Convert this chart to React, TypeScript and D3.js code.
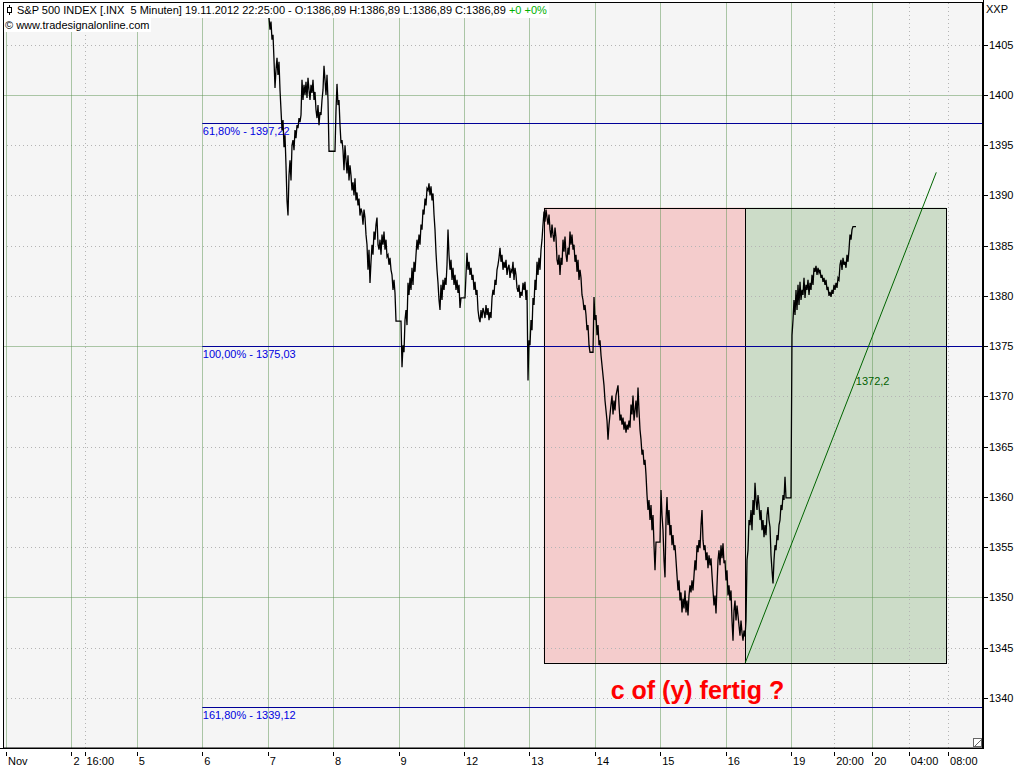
import React from 'react';
import * as d3 from 'd3';

// ---- axis / tick data ----
const Y_TICKS = [1340, 1345, 1350, 1355, 1360, 1365, 1370, 1375, 1380, 1385, 1390, 1395, 1400, 1405];
const Y_MAJOR = [1350, 1375, 1400];
const X_TICK_LABELS = ['Nov', '2', '16:00', '5', '6', '7', '8', '9', '12', '13', '14', '15', '16', '19', '20:00', '20', '04:00', '08:00'];
const X_TICK_POS = [0, 1, 1.2, 2, 3, 4, 5, 6, 7, 8, 9, 10, 11, 12, 12.66, 13.24, 13.8, 14.4];
const X_TICK_MAJOR = [true, true, false, true, true, true, true, true, true, true, true, true, true, true, false, true, false, false];

// x in trading-day units, y in index points
const X_DOMAIN = [-0.046, 14.934];
const Y_DOMAIN = [1335.02, 1409.15];

// ---- price series (sampled ~65 samples per trading day from Nov 7) ----
const PRICE_START = 4.02;
const SAMPLES_PER_DAY = 65.42;
const PRICES = [
  1407.7, 1406.5, 1407.3, 1405.5, 1406.0, 1403.5, 1400.7, 1402.5, 1403.7, 1402.0, 1403.3, 1400.5,
  1398.5, 1396.5, 1397.5, 1394.8, 1396.0, 1393.0, 1389.5, 1388.0, 1392.0, 1393.5, 1391.5, 1395.0, 1395.5, 1394.5, 1396.5, 1395.7, 1397.0, 1396.7, 1397.7, 1397.3,
  1398.0, 1401.5, 1399.5, 1401.0, 1400.0, 1401.3, 1399.7, 1401.7, 1400.5, 1399.5, 1401.0, 1400.2, 1401.5, 1399.5, 1400.3, 1398.5, 1397.7, 1399.0, 1397.0, 1398.3,
  1398.0, 1399.5, 1400.5, 1402.9, 1401.5, 1400.0, 1402.0, 1399.5, 1394.4, 1394.4, 1394.4, 1394.4, 1394.4, 1394.4, 1394.4, 1398.5, 1401.1, 1399.0, 1399.5, 1397.0,
  1395.2, 1395.5, 1394.5, 1392.5, 1395.0, 1393.5, 1392.2, 1394.0, 1391.5, 1393.0, 1392.0, 1390.5, 1391.3, 1390.0, 1391.7, 1389.5, 1390.3, 1389.0, 1389.7, 1388.0,
  1388.7, 1388.3, 1387.1, 1388.6, 1387.8, 1386.1, 1385.1, 1382.6, 1384.6, 1381.3, 1383.4, 1385.1, 1384.1, 1386.4, 1385.6, 1387.1, 1387.8, 1385.1, 1384.6, 1385.6,
  1384.1, 1386.1, 1385.1, 1386.4, 1384.6, 1385.6, 1383.9, 1384.1, 1383.1, 1383.8, 1382.6, 1382.1, 1380.6, 1381.6, 1380.3, 1377.5, 1377.5, 1377.5, 1377.5, 1377.5,
  1377.5, 1372.9, 1375.1, 1374.4, 1377.6, 1378.6, 1377.1, 1381.3, 1380.1, 1381.8, 1380.6, 1382.8, 1381.1, 1383.4, 1382.4, 1384.1, 1385.6, 1384.6, 1386.1, 1385.1,
  1387.1, 1386.6, 1388.6, 1388.1, 1389.7, 1389.0, 1390.7, 1390.5, 1391.2, 1390.0, 1390.9, 1389.5, 1390.2, 1388.1, 1386.6, 1384.3, 1382.6, 1381.3, 1379.6, 1378.6,
  1381.1, 1379.6, 1381.6, 1380.6, 1381.8, 1381.1, 1383.1, 1386.6, 1384.1, 1382.6, 1383.6, 1381.6, 1382.8, 1381.1, 1382.1, 1380.6, 1381.6, 1380.3, 1381.1, 1378.8,
  1379.8, 1379.8, 1379.8, 1379.8, 1379.8, 1382.1, 1384.3, 1382.6, 1383.4, 1382.1, 1382.8, 1381.6, 1382.1, 1380.6, 1381.4, 1380.1, 1380.6, 1378.6, 1377.8, 1377.4,
  1378.6, 1377.8, 1378.8, 1378.4, 1377.8, 1379.1, 1378.1, 1378.8, 1377.6, 1378.4, 1377.8, 1379.8, 1380.6, 1380.1, 1381.6, 1381.1, 1382.6, 1383.1, 1383.8, 1384.8,
  1383.4, 1384.1, 1382.6, 1383.4, 1382.8, 1383.6, 1382.1, 1382.8, 1383.1, 1381.8, 1382.6, 1382.4, 1383.4, 1381.6, 1382.8, 1382.1, 1380.8, 1380.4, 1381.1, 1379.8,
  1380.4, 1380.0, 1381.3, 1380.6, 1381.4, 1379.6, 1380.6, 1371.6, 1375.6, 1375.1, 1377.6, 1376.6, 1379.8, 1379.1, 1381.6, 1380.6, 1383.4, 1382.1, 1383.8, 1382.6,
  1384.6, 1385.6, 1387.1, 1388.4, 1387.4, 1388.6, 1387.8, 1387.1, 1388.1, 1386.6, 1385.8, 1387.1, 1386.1, 1385.4, 1386.8, 1385.8, 1383.6, 1383.1, 1384.1, 1382.1,
  1383.8, 1383.1, 1385.6, 1384.4, 1385.9, 1384.1, 1383.4, 1384.8, 1384.1, 1386.4, 1385.1, 1386.1, 1384.6, 1385.1, 1383.4, 1384.1, 1382.4, 1383.6, 1381.6, 1382.6,
  1381.8, 1380.1, 1379.6, 1378.6, 1379.1, 1378.1, 1376.6, 1377.1, 1375.1, 1374.4, 1374.4, 1374.4, 1374.4, 1379.9, 1377.6, 1378.1, 1376.1, 1377.1, 1375.1, 1375.6,
  1374.1, 1373.1, 1372.1, 1371.1, 1369.6, 1368.6, 1367.6, 1365.7, 1367.2, 1368.2, 1369.2, 1370.1, 1368.2, 1369.6, 1368.6, 1370.1, 1370.6, 1371.1, 1369.2, 1367.6,
  1368.2, 1367.2, 1367.9, 1366.7, 1367.5, 1366.4, 1367.2, 1366.7, 1367.6, 1366.9, 1369.2, 1368.2, 1370.1, 1367.6, 1368.6, 1369.6, 1367.9, 1370.9, 1368.6, 1366.7,
  1365.7, 1364.2, 1364.7, 1363.2, 1363.7, 1362.2, 1360.2, 1358.7, 1359.7, 1357.7, 1359.2, 1356.7, 1358.2, 1355.2, 1352.7, 1355.5, 1355.5, 1355.5, 1355.5, 1355.5,
  1360.7, 1358.2, 1356.7, 1353.7, 1352.0, 1357.7, 1360.0, 1357.2, 1358.7, 1356.2, 1357.2, 1355.2, 1356.2, 1354.7, 1355.2, 1353.7, 1352.2, 1350.7, 1351.7, 1349.7,
  1350.5, 1348.5, 1349.9, 1348.9, 1350.7, 1348.5, 1349.7, 1348.2, 1350.2, 1351.2, 1350.5, 1351.7, 1350.7, 1352.2, 1353.7, 1352.7, 1355.2, 1354.5, 1355.7, 1354.9,
  1357.2, 1358.7, 1355.7, 1354.7, 1355.2, 1353.7, 1354.5, 1352.9, 1354.2, 1353.2, 1353.9, 1352.2, 1350.7, 1349.2, 1350.2, 1348.4, 1351.2, 1353.7, 1354.7, 1353.2,
  1355.2, 1353.9, 1355.4, 1353.4, 1353.7, 1351.7, 1352.7, 1350.2, 1351.2, 1349.7, 1350.7, 1347.7, 1345.7, 1348.7, 1349.7, 1347.7, 1349.2, 1348.2, 1347.2, 1346.2,
  1347.7, 1346.5, 1345.7, 1346.7, 1346.1, 1347.7, 1353.7, 1354.7, 1357.7, 1357.2, 1358.7, 1356.7, 1359.7, 1358.2, 1361.4, 1359.7, 1358.7, 1360.2, 1359.2, 1357.7,
  1358.7, 1356.7, 1357.7, 1356.0, 1357.2, 1356.2, 1358.2, 1359.0, 1357.7, 1357.0, 1354.2, 1352.7, 1351.4, 1353.7, 1355.2, 1354.7, 1356.2, 1355.7, 1357.2, 1357.7,
  1359.2, 1358.7, 1360.2, 1359.7, 1362.0, 1359.9, 1359.9, 1359.9, 1359.9, 1359.9, 1359.9, 1376.1, 1377.6, 1379.6, 1378.1, 1380.6, 1378.6, 1381.1, 1379.1, 1381.4,
  1379.6, 1380.6, 1380.1, 1381.8, 1379.8, 1381.1, 1380.6, 1381.6, 1380.1, 1381.3, 1380.6, 1382.1, 1381.1, 1382.8, 1382.4, 1383.0, 1382.1, 1382.8, 1382.3, 1382.6,
  1381.8, 1382.1, 1381.4, 1381.8, 1381.1, 1381.6, 1380.6, 1380.9, 1380.0, 1380.4, 1379.9, 1380.6, 1380.2, 1381.1, 1380.6, 1381.3, 1380.8, 1381.8, 1381.6, 1383.1,
  1383.6, 1382.6, 1383.8, 1383.1, 1383.4, 1382.8, 1384.1, 1383.4, 1384.6, 1386.1, 1385.6, 1386.6, 1386.9, 1386.9, 1386.9, 1386.89,
];

// ---- annotations ----
const FIB_LEVELS = [1397.22, 1375.03, 1339.12];
const FIB_LABELS = ['61,80% - 1397,22', '100,00% - 1375,03', '161,80% - 1339,12'];
const FIB_START = 3;
const BOX_X = [8.22, 11.3, 14.37]; // red box: [0]-[1], green box: [1]-[2]
const BOX_PRICES = [1343.5, 1388.8];
const TREND_X = [11.3, 14.22];
const TREND_P = [1343.5, 1392.3];
const TREND_LABEL = '1372,2';
const TREND_LABEL_AT = [12.99, 1372.2];
const COMMENT = 'c of (y) fertig ?';
const COMMENT_AT = [10.57, 1339.85];
const HEADER_MAIN = 'S&P 500 INDEX [.INX  5 Minuten] 19.11.2012 22:25:00 - O:1386,89 H:1386,89 L:1386,89 C:1386,89';
const HEADER_CHANGE = ' +0 +0%';
const HEADER_SUB = '\u00a9 www.tradesignalonline.com';
const AXIS_NAME = 'XXP';

const FONT = '"Liberation Sans", Arial, sans-serif';

export default function App() {
  const W = 1024, H = 768;
  const L = 3, R = 983, T = 3, B = 748;
  const x = d3.scaleLinear().domain(X_DOMAIN).range([L, R]);
  const y = d3.scaleLinear().domain(Y_DOMAIN).range([B, T]);
  const pts: [number, number][] = PRICES.map((p, i) => [PRICE_START + i / SAMPLES_PER_DAY, p]);
  const line = d3.line<[number, number]>().x(d => x(d[0])).y(d => y(d[1]));
  const dotted = '1,3';
  const gridGreen = 'rgba(95,150,85,0.5)';
  const gridGray = '#b4b4b4';
  const fibColor = '#000098';

  return (
    <svg width={W} height={H} style={{ position: 'absolute', left: 0, top: 0, background: '#fff' }}
      fontFamily={FONT}>
      <defs>
        <clipPath id="plot"><rect x={L} y={T} width={R - L} height={B - T} /></clipPath>
      </defs>
      <rect x={0} y={0} width={W} height={H} fill="#ffffff" />
      <rect x={L} y={T} width={R - L} height={B - T} fill="#f5f5f5" />

      {/* boxes */}
      <rect x={x(BOX_X[0])} y={y(BOX_PRICES[1])} width={x(BOX_X[1]) - x(BOX_X[0])}
        height={y(BOX_PRICES[0]) - y(BOX_PRICES[1])} fill="#f4cccc" />
      <rect x={x(BOX_X[1])} y={y(BOX_PRICES[1])} width={x(BOX_X[2]) - x(BOX_X[1])}
        height={y(BOX_PRICES[0]) - y(BOX_PRICES[1])} fill="#ccdcc8" />

      {/* grid */}
      <g clipPath="url(#plot)">
        {Y_TICKS.map(v => (
          <line key={'gy' + v} x1={L} x2={R} y1={Math.round(y(v)) + 0.5} y2={Math.round(y(v)) + 0.5}
            stroke={Y_MAJOR.includes(v) ? gridGreen : gridGray}
            strokeDasharray={Y_MAJOR.includes(v) ? undefined : dotted} />
        ))}
        {X_TICK_POS.map((v, i) => (
          <line key={'gx' + i} x1={Math.round(x(v)) + 0.5} x2={Math.round(x(v)) + 0.5} y1={T} y2={B}
            stroke={X_TICK_MAJOR[i] ? gridGreen : gridGray}
            strokeDasharray={X_TICK_MAJOR[i] ? undefined : dotted} />
        ))}
      </g>

      {/* box borders */}
      {[0, 1].map(k => (
        <rect key={'bb' + k} x={Math.round(x(BOX_X[k])) + 0.5} y={Math.round(y(BOX_PRICES[1])) + 0.5}
          width={Math.round(x(BOX_X[k + 1])) - Math.round(x(BOX_X[k]))}
          height={Math.round(y(BOX_PRICES[0])) - Math.round(y(BOX_PRICES[1]))}
          fill="none" stroke="#000" strokeWidth={1} />
      ))}

      {/* fib lines */}
      {FIB_LEVELS.map((v, i) => (
        <g key={'fib' + i}>
          <line x1={x(FIB_START)} x2={R} y1={Math.round(y(v)) + 0.5} y2={Math.round(y(v)) + 0.5}
            stroke={fibColor} strokeWidth={1} />
          <text x={x(FIB_START) + 0.5} y={y(v) + 12} fontSize={11} fill="#0000e0">{FIB_LABELS[i]}</text>
        </g>
      ))}

      {/* trend line */}
      <line x1={x(TREND_X[0])} y1={y(TREND_P[0])} x2={x(TREND_X[1])} y2={y(TREND_P[1])}
        stroke="#006400" strokeWidth={1} />
      <text x={x(TREND_LABEL_AT[0])} y={y(TREND_LABEL_AT[1]) + 11} fontSize={11} fill="#006000">{TREND_LABEL}</text>

      {/* price */}
      <g clipPath="url(#plot)">
        <path d={line(pts) || ''} fill="none" stroke="#000" strokeWidth={1.3} strokeLinejoin="miter" />
      </g>

      {/* comment */}
      <text x={x(COMMENT_AT[0])} y={y(COMMENT_AT[1])} fontSize={25} fontWeight="bold" fill="#ff0000"
        textAnchor="middle">{COMMENT}</text>

      {/* header */}
      <rect x={L} y={T} width={546} height={15} fill="#ffffff" />
      <rect x={L} y={T + 15} width={148} height={14} fill="#ffffff" />
      <line x1={9.5} x2={9.5} y1={5} y2={15} stroke="#000" />
      <rect x={7.5} y={7.5} width={4} height={5} fill="#fff" stroke="#000" />
      <text x={17} y={14} fontSize={11} fill="#000" style={{ whiteSpace: 'pre' }}>
        {HEADER_MAIN}<tspan fill="#00b000">{HEADER_CHANGE}</tspan>
      </text>
      <text x={5} y={29} fontSize={11} fill="#000">{HEADER_SUB}</text>

      {/* frame */}
      <rect x={L + 0.5} y={T - 0.5} width={R - L - 1} height={B - T + 0.5} fill="none" stroke="#000" strokeWidth={1} />
      <line x1={R + 0.5} x2={R + 0.5} y1={0} y2={B + 1} stroke="#000" />
      <line x1={0} x2={R + 1} y1={B + 0.5} y2={B + 0.5} stroke="#000" />

      {/* right axis */}
      <text x={986} y={13} fontSize={11} fill="#000">{AXIS_NAME}</text>
      {Y_TICKS.map(v => (
        <g key={'yt' + v}>
          <line x1={R + 1} x2={R + 5} y1={Math.round(y(v)) + 0.5} y2={Math.round(y(v)) + 0.5} stroke="#000" />
          <text x={R + 6} y={y(v) + 4} fontSize={11} fill="#000">{v}</text>
        </g>
      ))}

      {/* bottom axis */}
      {X_TICK_POS.map((v, i) => (
        <g key={'xt' + i}>
          <line x1={Math.round(x(v)) + 0.5} x2={Math.round(x(v)) + 0.5} y1={B + 4} y2={B + 8} stroke="#000" />
          <text x={x(v) + 2} y={B + 17} fontSize={11} fill="#000">{X_TICK_LABELS[i]}</text>
        </g>
      ))}

      {/* resize glyph */}
      <rect x={R - 9.5} y={B - 9.5} width={8} height={8} fill="#fff" stroke="#666" />
      <line x1={R - 8} y1={B - 2} x2={R - 2} y2={B - 8} stroke="#666" />
    </svg>
  );
}
